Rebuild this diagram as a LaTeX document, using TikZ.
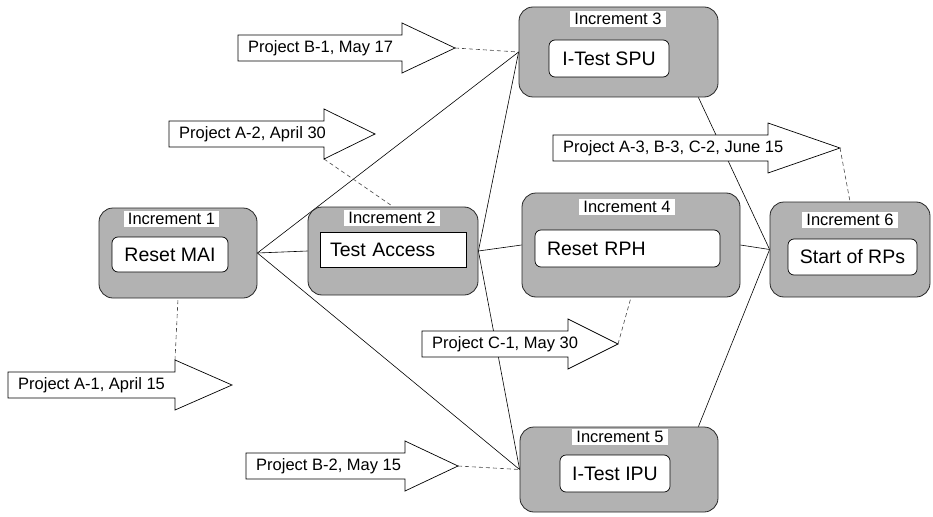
\documentclass[tikz,border=0pt]{standalone}
\usepackage{fontspec}
\setmainfont{Liberation Sans}
\usetikzlibrary{backgrounds}

\definecolor{incgray}{RGB}{178,178,178}
\definecolor{dashgray}{RGB}{70,70,70}

\tikzset{
  increment/.style={draw=black!85, fill=incgray, rounded corners=14pt, line width=0.8pt, inner sep=0pt},
  inclabel/.style={fill=white, inner xsep=4pt, inner ysep=2pt, font=\fontsize{16.5}{18}\selectfont},
  task/.style={draw=black, fill=white, rounded corners=6pt, line width=0.7pt, inner sep=0pt, font=\fontsize{19.5}{22}\selectfont},
  milestonebox/.style={draw=black, fill=white, line width=0.7pt},
  milestonetext/.style={inner xsep=10pt, inner ysep=0pt, font=\fontsize{16.5}{18}\selectfont},
  link/.style={line width=0.6pt},
  dlink/.style={draw=dashgray, dash pattern=on 4pt off 3pt, line width=0.6pt},
}

% #1 name, #2 left end, #3 head base, #4 tip, #5 middle line, #6 text
\newcommand{\milestone}[6]{%
  \draw[milestonebox] (#2,#5-13) -- (#3,#5-13) -- (#3,#5-25) coordinate (#1-top)
    -- (#4,#5) coordinate (#1-tip) -- (#3,#5+25) coordinate (#1-bot)
    -- (#3,#5+13) -- (#2,#5+13) -- cycle;
  \node[milestonetext, anchor=west] (#1) at (#2,#5) {#6};
}

\begin{document}
\begin{tikzpicture}[x=1pt, y=-1pt]
    \useasboundingbox (0,0) rectangle (933,516);

    % increments
    \node[increment, minimum width=158pt, minimum height=90pt] (inc1) at (178,253) {};
    \node[increment, minimum width=170pt, minimum height=88pt] (inc2) at (393,251) {};
    \node[increment, minimum width=199pt, minimum height=90pt] (inc3) at (618.5,52) {};
    \node[increment, minimum width=218pt, minimum height=104pt] (inc4) at (631,245) {};
    \node[increment, minimum width=198pt, minimum height=85pt] (inc5) at (619,469.5) {};
    \node[increment, minimum width=160pt, minimum height=95pt] (inc6) at (850,249.5) {};

    \node[inclabel] (lab1) at (171.5,219) {Increment 1};
    \node[inclabel] (lab2) at (392,218) {Increment 2};
    \node[inclabel] (lab3) at (618,19) {Increment 3};
    \node[inclabel] (lab4) at (627,207) {Increment 4};
    \node[inclabel] (lab5) at (620,437) {Increment 5};
    \node[inclabel] (lab6) at (850,220) {Increment 6};

    \node[task, minimum width=116pt, minimum height=35pt] (mai) at (170,254.5) {Reset MAI};
    \node[task, sharp corners, text width=126pt, inner xsep=10pt, align=left,
          minimum height=35pt] (access) at (393,249.5) {Test Access};
    \node[task, minimum width=120pt, minimum height=37pt] (spu) at (609,58.5) {I-Test SPU};
    \node[task, text width=161pt, inner xsep=12pt, align=left,
          minimum height=37pt] (rph) at (627.5,248.5) {Reset RPH};
    \node[task, minimum width=110pt, minimum height=37pt] (ipu) at (615,473.5) {I-Test IPU};
    \node[task, minimum width=129pt, minimum height=36pt] (rps) at (852.5,257) {Start of RPs};

    % milestones
    \milestone{ma1}{8}{175}{232}{385}{Project A-1, April 15}
    \milestone{ma2}{169}{324}{375}{134}{Project A-2, April 30}
    \milestone{mb1}{238}{402}{455}{48}{Project B-1, May 17}
    \milestone{ma3}{553}{768}{840}{148}{Project A-3, B-3, C-2, June 15}
    \milestone{mc1}{422}{568}{618}{344}{Project C-1, May 30}
    \milestone{mb2}{246}{405}{458}{466}{Project B-2, May 15}

    \begin{scope}[on background layer]
        \draw[link] (inc1.east) -- (inc2.west);
        \draw[link] (inc1.east) -- (inc3.west);
        \draw[link] (inc1.east) -- (inc5.west);
        \draw[link] (inc2.east) -- (inc3.west);
        \draw[link] (inc2.east) -- (inc4.west);
        \draw[link] (inc2.east) -- (inc5.west);
        \draw[link] ([xshift=-20pt]inc3.south east) -- (inc6.west);
        \draw[link] (inc4.east) -- (inc6.west);
        \draw[link] ([xshift=-20pt]inc5.north east) -- (inc6.west);

        \draw[dlink] (ma1-top) -- (inc1.south);
        \draw[dlink] (ma2-bot) -- (inc2.north);
        \draw[dlink] (mb1-tip) -- (inc3.west);
        \draw[dlink] (ma3-tip) -- (inc6.north);
        \draw[dlink] (mc1-tip) -- (inc4.south);
        \draw[dlink] (mb2-tip) -- (inc5.west);
    \end{scope}
\end{tikzpicture}
\end{document}
